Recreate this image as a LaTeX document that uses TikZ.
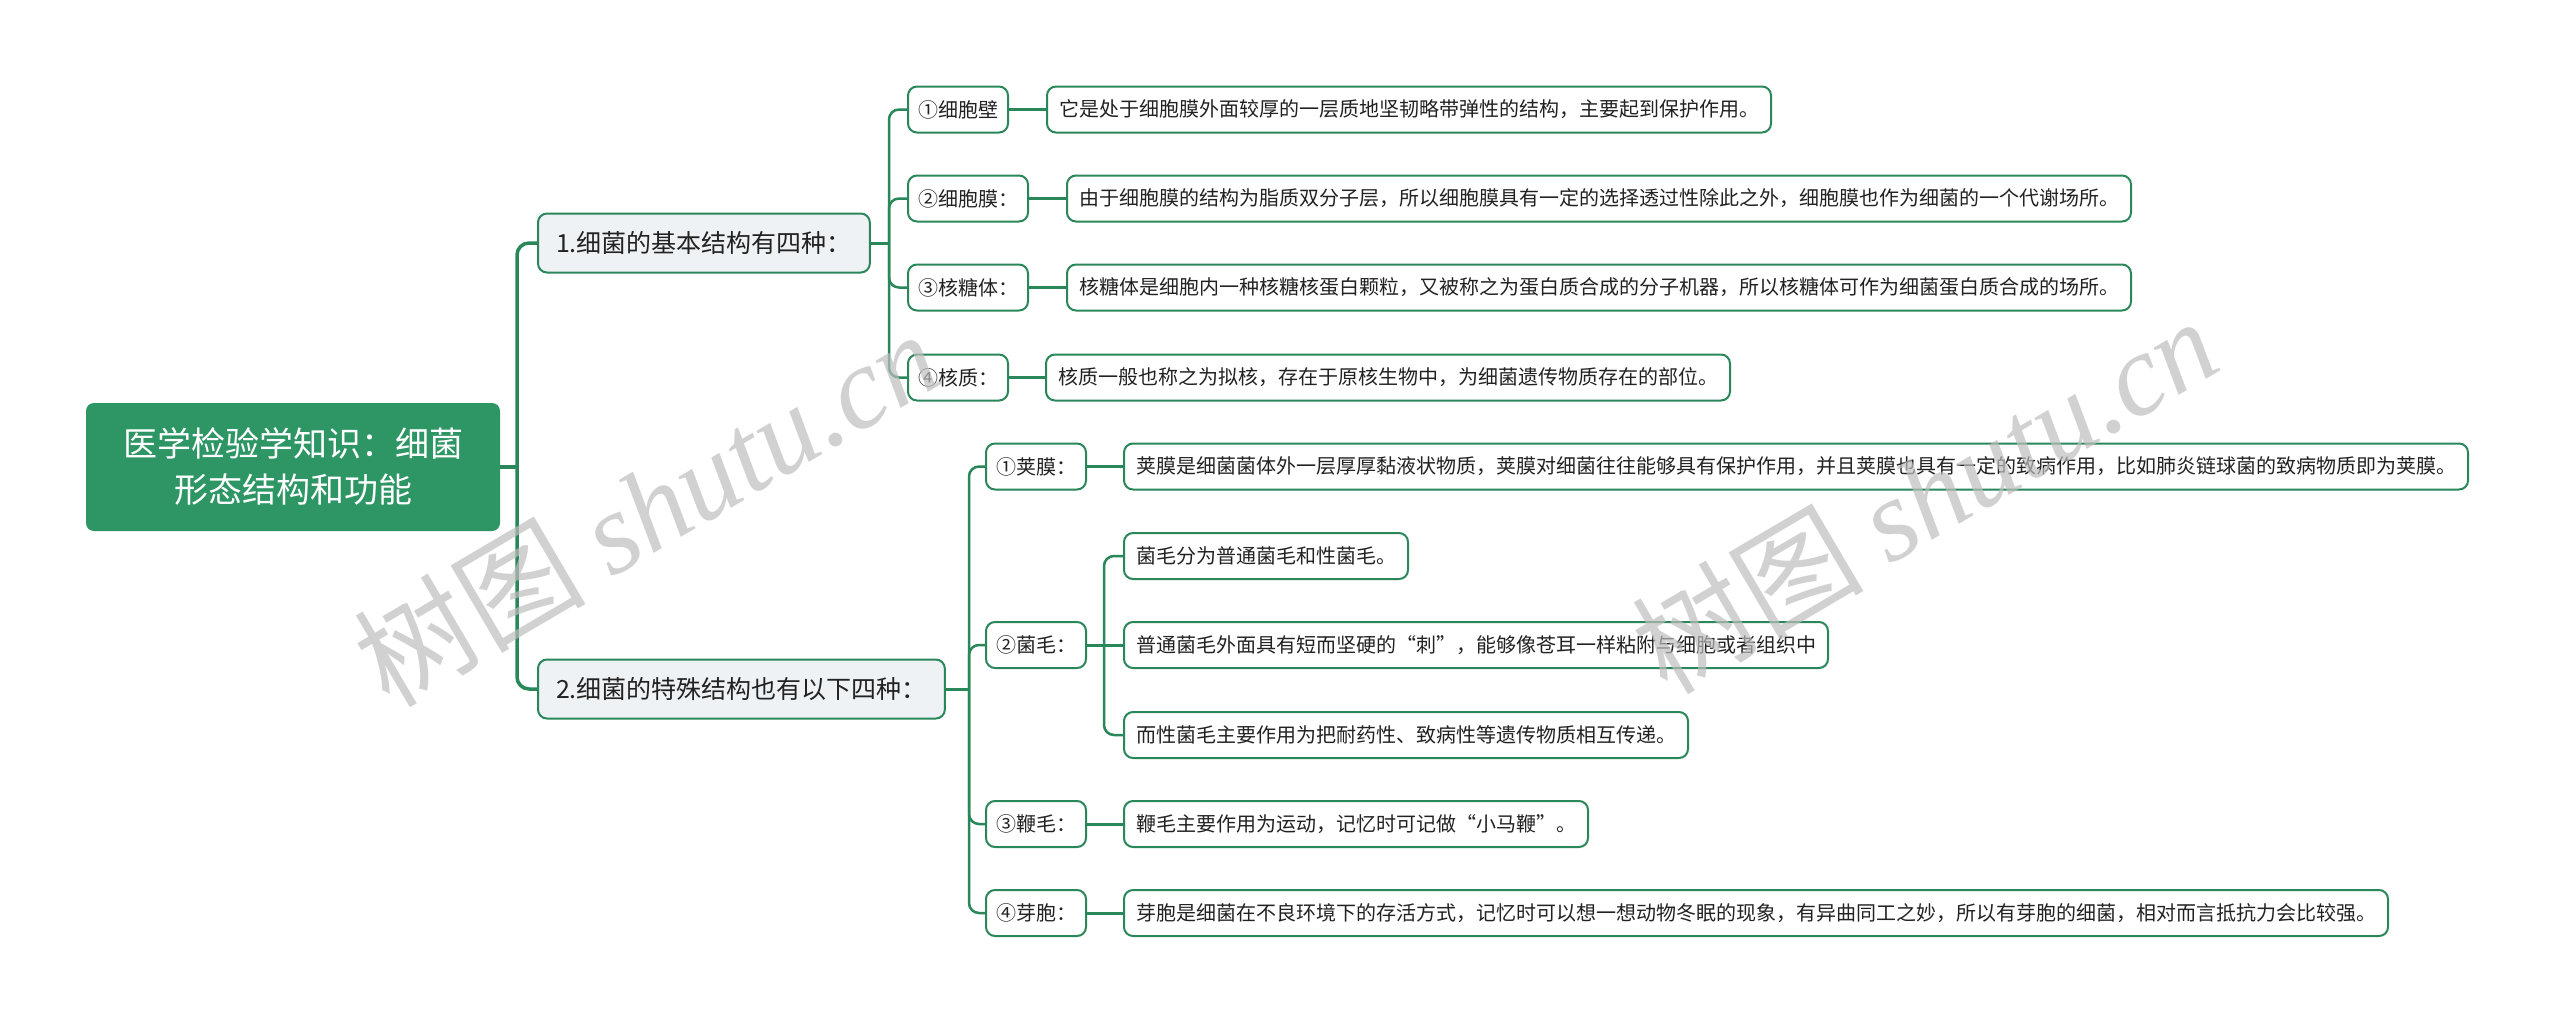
\documentclass[tikz,border=0pt]{standalone}
\usepackage{fontspec}
\setmainfont{Noto Sans CJK SC}
\newfontfamily\cjkfont{Noto Sans CJK SC}
\newfontfamily\wmfont{Liberation Serif}
\definecolor{lc}{RGB}{42,135,90}
\definecolor{rootg}{RGB}{45,150,100}
\definecolor{lvfill}{RGB}{238,242,245}
\definecolor{txt}{RGB}{34,34,34}
\definecolor{wmgray}{RGB}{190,190,190}
\tikzset{
  conn/.style={draw=lc, line width=2.5pt, rounded corners=10pt},
  trunk/.style={draw=lc, line width=3.5pt, rounded corners=12pt},
  stub/.style={draw=lc, line width=3pt},
  rootbox/.style={fill=rootg, draw=none, rounded corners=8pt, text=white,
    font=\fontsize{34}{46}\selectfont, align=center, minimum width=414pt,
    minimum height=128pt, inner sep=0pt},
  lvbox/.style={fill=lvfill, draw=lc, line width=2pt, rounded corners=9pt,
    font=\fontsize{25}{30}\selectfont, text=txt, minimum height=59pt,
    inner xsep=18pt, inner ysep=0pt, anchor=west},
  itembox/.style={fill=white, draw=lc, line width=2pt, rounded corners=9pt,
    font=\fontsize{20}{24}\selectfont, text=txt, minimum height=46pt,
    inner xsep=10pt, inner ysep=0pt, anchor=west},
  descbox/.style={itembox, inner xsep=12pt},
  wm/.style={text=wmgray, opacity=0.7, rotate=30.5, inner sep=0pt,
    font=\fontsize{116}{116}\selectfont},
}
\begin{document}
\begin{tikzpicture}[x=1pt, y=-1pt]
\fill[white] (0,0) rectangle (2560,1023);
\useasboundingbox (0,0) rectangle (2560,1023);

% root
\node[rootbox] (root) at (293,467) {医学检验学知识：细菌\\形态结构和功能};

% level 1
\node[lvbox] (A) at (537,243) {1.细菌的基本结构有四种：};
\node[lvbox] (B) at (537,689) {2.细菌的特殊结构也有以下四种：};

% group A
\node[itembox] (a1) at (907,109.5) {①细胞壁};
\node[itembox] (a2) at (907,198.5) {②细胞膜：};
\node[itembox] (a3) at (907,287.5) {③核糖体：};
\node[itembox] (a4) at (907,377.5) {④核质：};
\node[descbox] (d1) at (1046,109.5) {它是处于细胞膜外面较厚的一层质地坚韧略带弹性的结构，主要起到保护作用。};
\node[descbox] (d2) at (1066,198.5) {由于细胞膜的结构为脂质双分子层，所以细胞膜具有一定的选择透过性除此之外，细胞膜也作为细菌的一个代谢场所。};
\node[descbox] (d3) at (1066,287.5) {核糖体是细胞内一种核糖核蛋白颗粒，又被称之为蛋白质合成的分子机器，所以核糖体可作为细菌蛋白质合成的场所。};
\node[descbox] (d4) at (1045,377.5) {核质一般也称之为拟核，存在于原核生物中，为细菌遗传物质存在的部位。};

% group B
\node[itembox] (b1) at (985,466.5) {①荚膜：};
\node[itembox] (b2) at (985,645) {②菌毛：};
\node[itembox] (b3) at (985,824) {③鞭毛：};
\node[itembox] (b4) at (985,913) {④芽胞：};
\node[descbox] (e1) at (1123,466.5) {荚膜是细菌菌体外一层厚厚黏液状物质，荚膜对细菌往往能够具有保护作用，并且荚膜也具有一定的致病作用，比如肺炎链球菌的致病物质即为荚膜。};
\node[descbox] (f1) at (1123,556) {菌毛分为普通菌毛和性菌毛。};
\node[descbox] (f2) at (1123,645) {普通菌毛外面具有短而坚硬的“刺”，能够像苍耳一样粘附与细胞或者组织中};
\node[descbox] (f3) at (1123,735) {而性菌毛主要作用为把耐药性、致病性等遗传物质相互传递。};
\node[descbox] (e3) at (1123,824) {鞭毛主要作用为运动，记忆时可记做“小马鞭”。};
\node[descbox] (e4) at (1123,913) {芽胞是细菌在不良环境下的存活方式，记忆时可以想一想动物冬眠的现象，有异曲同工之妙，所以有芽胞的细菌，相对而言抵抗力会比较强。};

% junction points
\coordinate (tR) at (517,467);
\coordinate (tA) at (889,243);
\coordinate (tB) at (969,689);
\coordinate (tF) at (1104,645);

% connectors
\draw[stub, line width=4pt] (root.east) -- (tR);
\draw[trunk] (tR) |- (A.west);
\draw[trunk] (tR) |- (B.west);

\draw[stub] (A.east) -- (tA);
\foreach \n in {a1,a2,a3,a4} { \draw[conn] (tA) |- (\n.west); }
\draw[stub] (a1.east) -- (d1.west);
\draw[stub] (a2.east) -- (d2.west);
\draw[stub] (a3.east) -- (d3.west);
\draw[stub] (a4.east) -- (d4.west);

\draw[stub] (B.east) -- (tB);
\foreach \n in {b1,b2,b3,b4} { \draw[conn] (tB) |- (\n.west); }
\draw[stub] (b1.east) -- (e1.west);
\draw[stub] (b3.east) -- (e3.west);
\draw[stub] (b4.east) -- (e4.west);
\draw[stub] (b2.east) -- (f2.west);
\draw[conn] (tF) |- (f1.west);
\draw[conn] (tF) |- (f3.west);

% watermarks
\node[wm] (w1) at (646,507) {{\cjkfont 树图} {\wmfont\itshape shutu.cn}};
\node[wm] (w2) at (1924,494) {{\cjkfont 树图} {\wmfont\itshape shutu.cn}};
\end{tikzpicture}
\end{document}
